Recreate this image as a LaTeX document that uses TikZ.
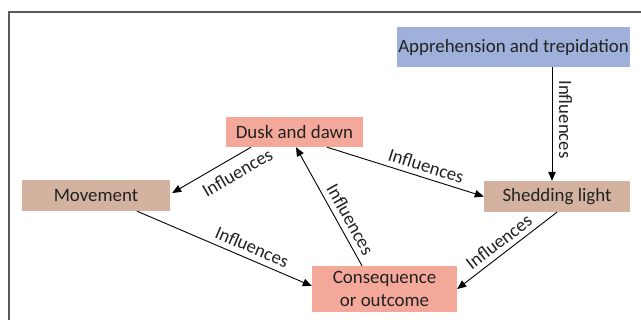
\documentclass[tikz,border=0pt]{standalone}
\usepackage{fontspec}
\setmainfont{Carlito}
\usetikzlibrary{arrows.meta,calc}
\definecolor{blueF}{HTML}{9FB1DA}
\definecolor{salmonF}{HTML}{F4A89A}
\definecolor{tanF}{HTML}{D3B39F}
\definecolor{txt}{HTML}{222222}
\definecolor{frame}{HTML}{5A5A5A}
\begin{document}
\begin{tikzpicture}[x=1pt,y=-1pt,
  box/.style={inner sep=0pt, font=\fontsize{18.9}{22.5}\selectfont, text=txt},
  conn/.style={draw=black, line width=0.9pt, -{Triangle[length=9pt,width=7.5pt]}},
  lab/.style={font=\fontsize{18.7}{22}\selectfont, text=txt, sloped, inner sep=0pt}]
\useasboundingbox (0,0) rectangle (641,320);
\fill[white] (0,0) rectangle (641,320);
\draw[line width=1.2pt, color=frame] (9,320) -- (9,12) -- (641,12);

\node[box, fill=blueF, minimum width=233pt, minimum height=40pt] (appr) at (513.5,47) {Apprehension and trepidation};
\node[box, fill=salmonF, minimum width=137pt, minimum height=30pt] (dusk) at (294.5,132) {Dusk and dawn};
\node[box, fill=tanF, minimum width=148pt, minimum height=31pt] (move) at (96,195.5) {Movement};
\node[box, fill=tanF, minimum width=146pt, minimum height=31pt] (shed) at (557,196.5) {Shedding light};
\node[box, fill=salmonF, minimum width=145pt, minimum height=46pt, align=center] (cons) at (384.5,289) {Consequence\\or outcome};

\coordinate (a1) at ($(appr.south)+(38.5,0)$);
\draw[conn] (a1) -- node[lab, pos=0.46, above=6.5pt] {Influences} (a1 |- shed.north);
\draw[conn] ($(dusk.south)+(-43.5,0)$) -- node[lab, pos=0.27, below=8pt] {Influences} ($(move.east)+(2,-2.5)$);
\draw[conn] ($(dusk.south)+(32.5,0)$) -- node[lab, pos=0.61, above=5pt] {Influences} (shed.west);
\draw[conn] ($(move.south)+(41,0)$) -- node[lab, pos=0.63, above=5.5pt] {Influences} ($(cons.west)+(0,-3)$);
\draw[conn] ($(cons.north)+(-22.5,0)$) -- node[lab, pos=0.34, above=5.5pt] {Influences} ($(dusk.south)+(1.5,0)$);
\draw[conn] (shed.south) -- node[lab, pos=0.51, above=5pt] {Influences} (cons.east);
\end{tikzpicture}
\end{document}
